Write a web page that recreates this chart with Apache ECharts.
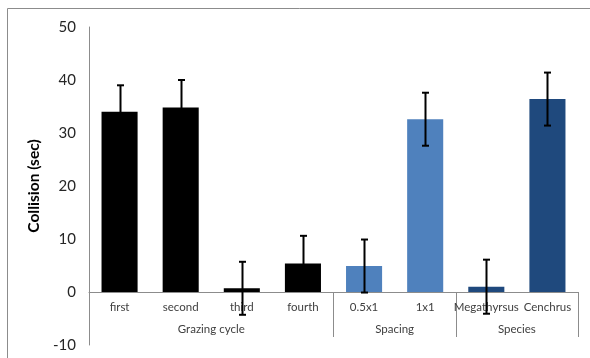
<!DOCTYPE html>
<html>
<head>
<meta charset="utf-8">
<script src="https://cdn.jsdelivr.net/npm/echarts@6/dist/echarts.min.js"></script>
<style>html,body{margin:0;padding:0;background:#fff}#c{width:590px;height:358px}</style>
</head>
<body>
<div id="c"></div>
<script>
var categories = ['first', 'second', 'third', 'fourth', '0.5x1', '1x1', 'Megathyrsus', 'Cenchrus'];
var values = [34.0, 34.8, 0.7, 5.4, 4.9, 32.6, 1.0, 36.4];
var errors = [5.0, 5.2, 5.0, 5.2, 5.0, 5.0, 5.1, 5.0];
var barColors = ['#000000', '#000000', '#000000', '#000000', '#4F81BD', '#4F81BD', '#1F497D', '#1F497D'];
var groupNames = ['Grazing cycle', 'Spacing', 'Species'];
var groupSizes = [4, 2, 2];
var yTicks = [-10, 0, 10, 20, 30, 40, 50];

var groupCenters = [], groupBounds = [], acc = 0;
groupSizes.forEach(function (s) { groupCenters.push(acc + s / 2); acc += s; groupBounds.push(acc); });

var gridTop = 27, gridBottom = 13, H = 358;
var yMin = yTicks[0], yMax = yTicks[yTicks.length - 1];
var plotH = H - gridTop - gridBottom;
var zeroOffset = -Math.round(plotH * (0 - yMin) / (yMax - yMin));

var chart = echarts.init(document.getElementById('c'));
var font = 'Lato, "Open Sans", sans-serif';
chart.setOption({
  animation: false,
  graphic: [{
    type: 'rect', shape: { x: 7.5, y: 8.5, width: 700, height: 500 },
    style: { fill: 'none', stroke: '#8c8c8c', lineWidth: 1 }, silent: true, z: -1
  }],
  grid: { left: 89, right: 12, top: gridTop, bottom: gridBottom, containLabel: false, outerBoundsMode: 'none' },
  xAxis: [{
    type: 'category', data: categories, position: 'bottom', offset: zeroOffset,
    axisLine: { onZero: false, lineStyle: { color: '#8c8c8c' } },
    axisTick: { show: false },
    axisLabel: { color: '#404040', fontSize: 11.5, fontFamily: font, margin: 9, interval: 0 }
  }, {
    type: 'value', min: 0, max: categories.length, position: 'bottom', offset: zeroOffset,
    axisLine: { show: false, onZero: false },
    splitLine: { show: false },
    axisTick: { show: true, customValues: groupBounds, length: 45, lineStyle: { color: '#8c8c8c' } },
    axisLabel: {
      customValues: groupCenters, color: '#404040', fontSize: 11.5, fontFamily: font, margin: 31,
      formatter: function (v) { var i = groupCenters.indexOf(v); return i >= 0 ? groupNames[i] : ''; }
    }
  }],
  yAxis: {
    type: 'value', min: yMin, max: yMax, interval: 10,
    name: 'Collision (sec)', nameLocation: 'middle', nameRotate: 90, nameGap: 44,
    nameTextStyle: { fontSize: 15.5, fontWeight: 'bold', color: '#000', fontFamily: font },
    axisLine: { show: true, lineStyle: { color: '#8c8c8c' } },
    axisTick: { show: false },
    splitLine: { show: false },
    axisLabel: { color: '#262626', fontSize: 15, fontFamily: font, margin: 13 }
  },
  series: [{
    type: 'bar', barWidth: '59%', xAxisIndex: 0,
    data: values.map(function (v, i) { return { value: v, itemStyle: { color: barColors[i] } }; })
  }, {
    type: 'custom', xAxisIndex: 0, z: 10,
    data: values.map(function (v, i) { return [i, v - errors[i], v + errors[i]]; }),
    renderItem: function (params, api) {
      var lo = api.coord([api.value(0), api.value(1)]);
      var hi = api.coord([api.value(0), api.value(2)]);
      var x = Math.round(lo[0]) + 0.5, h = 3.5;
      var st = { stroke: '#000', lineWidth: 2, fill: 'none' };
      return { type: 'group', children: [
        { type: 'line', shape: { x1: x, y1: lo[1], x2: x, y2: hi[1] }, style: st },
        { type: 'line', shape: { x1: x - h, y1: lo[1], x2: x + h, y2: lo[1] }, style: st },
        { type: 'line', shape: { x1: x - h, y1: hi[1], x2: x + h, y2: hi[1] }, style: st }
      ] };
    }
  }]
});
</script>
</body>
</html>
